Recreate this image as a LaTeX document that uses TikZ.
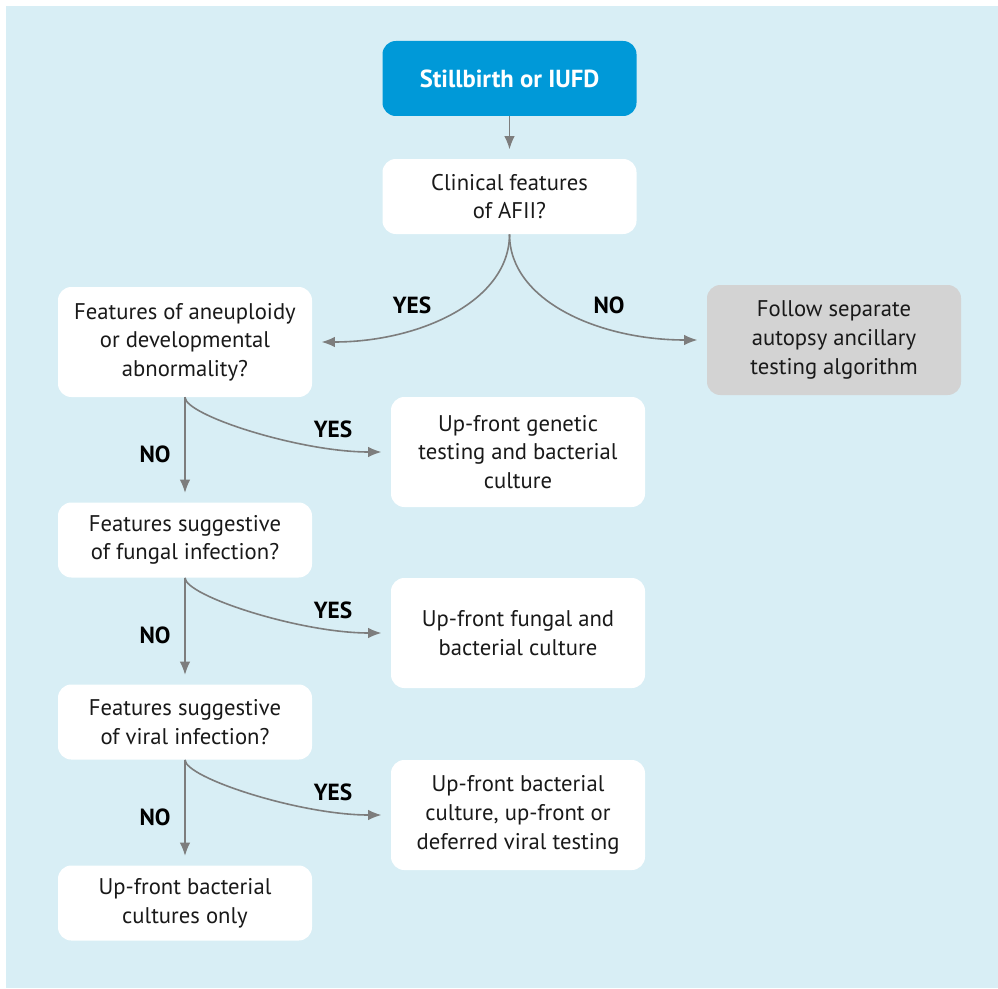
\documentclass[tikz,border=0pt]{standalone}
\usepackage{fontspec}
\setmainfont{PT Sans}
\usepackage{tikz}

\definecolor{bgblue}{RGB}{216,238,245}
\definecolor{topblue}{RGB}{0,153,216}
\definecolor{sepgray}{RGB}{211,211,211}
\definecolor{arrgray}{RGB}{125,125,125}

\tikzset{
  box/.style={rounded corners=10pt, fill=white, align=center, text=black!90,
    minimum width=190.5pt, inner sep=2pt, font=\fontsize{17}{21.5}\selectfont},
  shortbox/.style={box, minimum height=56.25pt},
  tallbox/.style={box, minimum height=82.5pt},
  startbox/.style={shortbox, fill=topblue, text=white, font=\fontsize{18.5}{21}\selectfont\bfseries},
  sepbox/.style={tallbox, fill=sepgray},
  arr/.style={draw=arrgray, line width=1.2pt, -{Latex[length=10pt,width=8pt]}, shorten >=7pt},
  answer/.style={font=\fontsize{17.5}{20}\selectfont\bfseries, text=black}
}
\usetikzlibrary{arrows.meta}

\begin{document}
\begin{tikzpicture}[x=0.75pt,y=-0.75pt]
          \useasboundingbox (0,0) rectangle (998,988);
          \fill[bgblue] (6,6) rectangle (998,988);
          % boxes
          \node[startbox] (still) at (509.5,78.5) {Stillbirth or IUFD};
          \node[shortbox] (clin) at (509.5,196.5) {Clinical features\\of AFII?};
          \node[tallbox] (aneu) at (185,342) {Features of aneuploidy\\or developmental\\abnormality?};
          \node[sepbox] (sep) at (834,340) {Follow separate\\autopsy ancillary\\testing algorithm};
          \node[tallbox] (gen) at (518,452) {Up-front genetic\\testing and bacterial\\culture};
          \node[shortbox] (fung) at (185,540) {Features suggestive\\of fungal infection?};
          \node[tallbox] (fcult) at (518,633) {Up-front fungal and\\bacterial culture};
          \node[shortbox] (vir) at (185,722) {Features suggestive\\of viral infection?};
          \node[tallbox] (vcult) at (518,815) {Up-front bacterial\\culture, up-front or\\deferred viral testing};
          \node[shortbox] (only) at (185,903) {Up-front bacterial\\cultures only};
          % connectors
          \draw[arr] (still) -- (clin);
          \draw[arr] (clin.south) .. controls +(0,67) and +(107,0) .. (aneu.east);
          \draw[arr] (clin.south) .. controls +(0,67) and +(-107,0) .. (sep.west);
          \draw[arr] (aneu) -- (fung);
          \draw[arr] (aneu.south) .. controls +(0,18) and +(-91,0) .. (gen.west);
          \draw[arr] (fung) -- (vir);
          \draw[arr] (fung.south) .. controls +(0,18) and +(-91,0) .. (fcult.west);
          \draw[arr] (vir) -- (only);
          \draw[arr] (vir.south) .. controls +(0,18) and +(-91,0) .. (vcult.west);
          % answers
          \node[answer] (yes1) at (412,305) {YES};
          \node[answer] (no1) at (609,305) {NO};
          \node[answer] (yes2) at (333,429) {YES};
          \node[answer] (no2) at (155,454) {NO};
          \node[answer] (yes3) at (333,610) {YES};
          \node[answer] (no3) at (155,635) {NO};
          \node[answer] (yes4) at (333,792) {YES};
          \node[answer] (no4) at (155,817) {NO};
            \end{tikzpicture}
\end{document}
